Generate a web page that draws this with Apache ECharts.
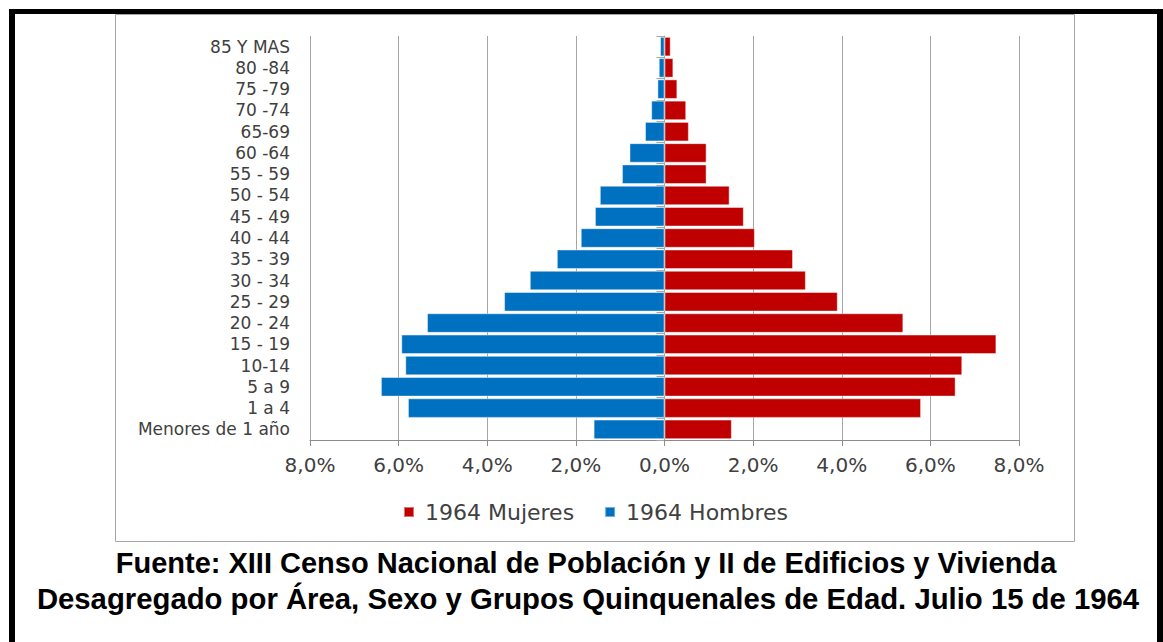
<!DOCTYPE html>
<html>
<head>
<meta charset="utf-8">
<title>Pirámide de población 1964</title>
<script src="https://cdn.jsdelivr.net/npm/echarts@6/dist/echarts.min.js"></script>
<style>
  html, body { margin: 0; padding: 0; background: #fff; }
  #chart { width: 1163px; height: 642px; }
</style>
</head>
<body>
<div id="chart"></div>
<script>
// grupos de edad, de abajo hacia arriba
const grupos = ['Menores de 1 año', '1 a 4', '5 a 9', '10-14', '15 - 19', '20 - 24', '25 - 29',
  '30 - 34', '35 - 39', '40 - 44', '45 - 49', '50 - 54', '55 - 59', '60 -64', '65-69',
  '70 -74', '75 -79', '80 -84', '85 Y MAS']

// porcentaje del total
const mujeres = [1.52, 5.79, 6.57, 6.72, 7.49, 5.39, 3.91, 3.19, 2.90, 2.04, 1.79, 1.47,
  0.95, 0.95, 0.55, 0.49, 0.29, 0.20, 0.14]
const hombres = [1.60, 5.79, 6.40, 5.85, 5.94, 5.36, 3.62, 3.04, 2.43, 1.89, 1.57, 1.46,
  0.96, 0.79, 0.44, 0.30, 0.16, 0.13, 0.10]

const ticks = { min: -8, max: 8, interval: 2 }

const fuente = [
  'Fuente: XIII Censo Nacional de Población y II de Edificios y Vivienda',
  'Desagregado por Área, Sexo y Grupos Quinquenales de Edad. Julio 15 de 1964'
]

const labelFont = '"DejaVu Sans", sans-serif'
const gris = '#a6a6a6'

const chart = echarts.init(document.getElementById('chart'), null, { renderer: 'svg' })
chart.setOption({
  backgroundColor: '#fff',
  animation: false,
  grid: {
    left: 310,
    right: 144,
    top: 36,
    bottom: 202,
    containLabel: false,
    outerBoundsMode: 'none'
  },
  legend: {
    left: 398,
    top: 496,
    icon: 'rect',
    itemWidth: 10,
    itemHeight: 10,
    itemGap: 30,
    data: ['1964 Mujeres', '1964 Hombres'],
    textStyle: {
      fontFamily: labelFont,
      fontSize: 22,
      color: '#404040',
      padding: [0, 0, 0, 6]
    }
  },
  xAxis: {
    type: 'value',
    min: ticks.min,
    max: ticks.max,
    interval: ticks.interval,
    axisLine: { show: true, lineStyle: { color: '#8c8c8c', width: 1 } },
    axisTick: { show: true, length: 6, lineStyle: { color: '#8c8c8c' } },
    axisLabel: {
      margin: 15,
      fontFamily: labelFont,
      fontSize: 20,
      color: '#404040',
      formatter: v => Math.abs(v).toFixed(1).replace('.', ',') + '%'
    },
    splitLine: { show: true, lineStyle: { color: gris, width: 1 } }
  },
  yAxis: [{
    type: 'category',
    data: grupos,
    position: 'left',
    axisLine: { show: false, onZero: false },
    axisTick: { show: false },
    axisLabel: {
      interval: 0,
      margin: 20,
      fontFamily: labelFont,
      fontSize: 17,
      color: '#404040'
    }
  }, {
    // linea del cero con sus marcas
    type: 'category',
    data: grupos,
    position: 'right',
    axisLine: { show: true, onZero: true, lineStyle: { color: gris, width: 1 } },
    axisTick: { show: true, inside: true, length: 8, interval: 0, lineStyle: { color: gris } },
    axisLabel: { show: false },
    splitLine: { show: false }
  }],
  series: [{
    name: '1964 Mujeres',
    type: 'bar',
    stack: 'pob',
    barCategoryGap: '8%',
    itemStyle: { color: '#C00000', borderColor: 'rgba(255,255,255,0.45)', borderWidth: 1 },
    data: mujeres
  }, {
    name: '1964 Hombres',
    type: 'bar',
    stack: 'pob',
    barCategoryGap: '8%',
    itemStyle: { color: '#0070C0', borderColor: 'rgba(255,255,255,0.45)', borderWidth: 1 },
    data: hombres.map(v => -v)
  }],
  graphic: [
    // marco negro
    { type: 'rect', silent: true, shape: { x: 9, y: 9, width: 1154, height: 5 }, style: { fill: '#000' } },
    { type: 'rect', silent: true, shape: { x: 9, y: 9, width: 6, height: 640 }, style: { fill: '#000' } },
    { type: 'rect', silent: true, shape: { x: 1157, y: 9, width: 6, height: 640 }, style: { fill: '#000' } },
    // borde del area del grafico
    { type: 'rect', silent: true, shape: { x: 115.5, y: 14.5, width: 959, height: 527 },
      style: { fill: 'none', stroke: gris, lineWidth: 1 } },
    // fuente
    { type: 'text', silent: true, x: 586, y: 563,
      style: { text: fuente[0], font: 'bold 29px "Liberation Sans", Arial, sans-serif', fill: '#000',
        align: 'center', verticalAlign: 'middle' } },
    { type: 'text', silent: true, x: 588, y: 598,
      style: { text: fuente[1], font: 'bold 29.3px "Liberation Sans", Arial, sans-serif', fill: '#000',
        align: 'center', verticalAlign: 'middle' } }
  ]
})
</script>
</body>
</html>
